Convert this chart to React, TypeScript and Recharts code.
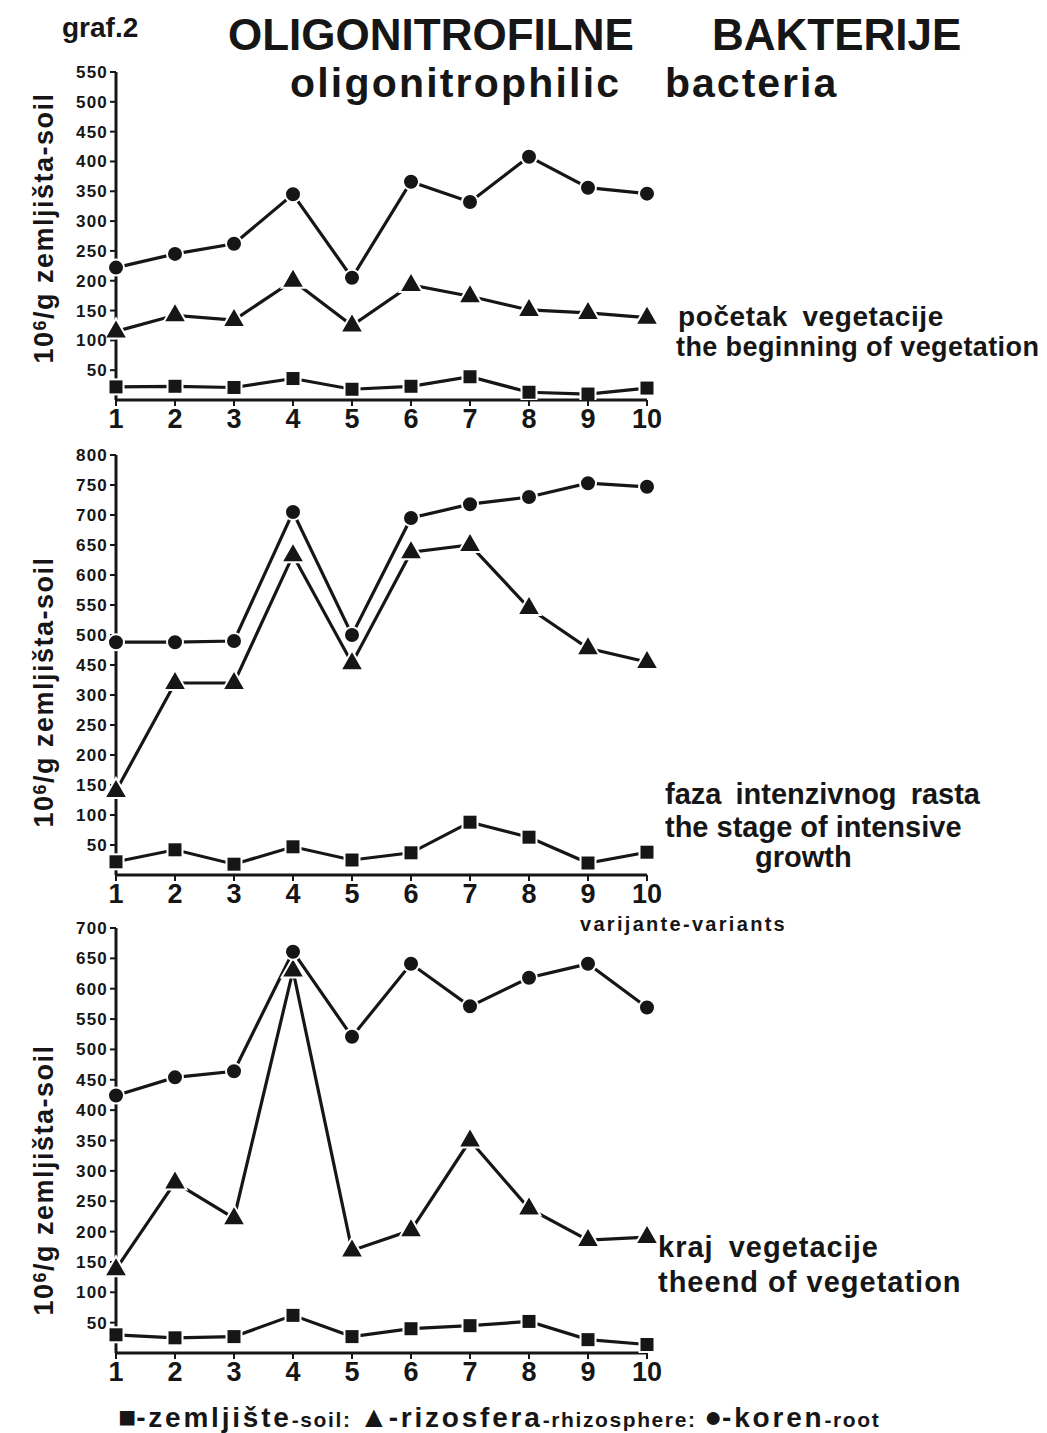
import React from "react";
import { LineChart, Line, XAxis, YAxis } from "recharts";

const variants = ["1", "2", "3", "4", "5", "6", "7", "8", "9", "10"];

// početak vegetacije - the beginning of vegetation
const beginSoil = [22, 23, 21, 36, 18, 23, 39, 13, 10, 20];
const beginRhizo = [115, 142, 134, 200, 125, 193, 174, 151, 146, 138];
const beginRoot = [222, 245, 262, 345, 205, 366, 332, 408, 356, 346];

// faza intenzivnog rasta - the stage of intensive growth (axis broken between 300 and 450)
const growthSoil = [22, 42, 18, 47, 25, 37, 88, 63, 20, 38];
const growthRhizo = [140, 320, 320, 633, 453, 638, 650, 545, 478, 455];
const growthRoot = [488, 488, 490, 705, 500, 695, 718, 730, 753, 747];

// kraj vegetacije - the end of vegetation
const endSoil = [30, 25, 27, 62, 27, 40, 45, 52, 22, 14];
const endRhizo = [138, 281, 222, 630, 169, 202, 350, 238, 186, 191];
const endRoot = [424, 454, 464, 661, 521, 641, 571, 618, 641, 569];

const beginTicks = [50, 100, 150, 200, 250, 300, 350, 400, 450, 500, 550];
const growthTicks = [50, 100, 150, 200, 250, 300, 350, 400, 450, 500, 550, 600, 650, 700];
const endTicks = [50, 100, 150, 200, 250, 300, 350, 400, 450, 500, 550, 600, 650, 700];

const FONT = "'Liberation Sans', Arial, Helvetica, sans-serif";
const INK = "#161616";

// broken axis of the middle graph: 450 sits one step above 300
const brk = (v: number) => (v >= 450 ? v - 100 : v);
const brkLabel = (d: number) => String(d >= 350 ? d + 100 : d);

function rows(soil: number[], rhizo: number[], root: number[], f = (v: number) => v) {
  return variants.map((v, i) => ({
    variant: v,
    soil: f(soil[i]),
    rhizo: f(rhizo[i]),
    root: f(root[i]),
  }));
}

const beginData = rows(beginSoil, beginRhizo, beginRoot);
const growthData = rows(growthSoil, growthRhizo, growthRoot, brk);
const endData = rows(endSoil, endRhizo, endRoot);

const squareDot = (p: any) => {
  if (p.cx == null || p.cy == null) return <g key={`s${p.index}`} />;
  return (
    <rect key={`s${p.index}`} x={p.cx - 7.5} y={p.cy - 7.5} width={15} height={15}
      fill={INK} stroke="#fff" strokeWidth={2} />
  );
};

const triangleDot = (p: any) => {
  if (p.cx == null || p.cy == null) return <g key={`t${p.index}`} />;
  const { cx, cy } = p;
  return (
    <polygon key={`t${p.index}`}
      points={`${cx},${cy - 13} ${cx - 11.5},${cy + 7} ${cx + 11.5},${cy + 7}`}
      fill={INK} stroke="#fff" strokeWidth={2} />
  );
};

const circleDot = (p: any) => {
  if (p.cx == null || p.cy == null) return <g key={`c${p.index}`} />;
  return <circle key={`c${p.index}`} cx={p.cx} cy={p.cy} r={8} fill={INK} stroke="#fff" strokeWidth={2} />;
};

type PanelProps = {
  data: any[];
  top: number;
  height: number;
  marginTop: number;
  max: number;
  ticks: number[];
  fmt?: (v: number) => string;
};

function Panel({ data, top, height, marginTop, max, ticks, fmt }: PanelProps) {
  return (
    <div style={{ position: "absolute", left: 0, top }}>
      <LineChart width={700} height={height} data={data}
        margin={{ top: marginTop, right: 53, left: 0, bottom: 0 }}>
        <XAxis dataKey="variant" height={40} interval={0}
          axisLine={{ stroke: INK, strokeWidth: 3 }}
          tickLine={{ stroke: INK, strokeWidth: 2 }} tickSize={6} tickMargin={3}
          tick={{ fill: INK, fontSize: 27, fontWeight: 700, fontFamily: FONT }} />
        <YAxis type="number" domain={[0, max]} ticks={ticks} interval={0} width={116}
          allowDataOverflow tickFormatter={fmt}
          axisLine={{ stroke: INK, strokeWidth: 3 }}
          tickLine={{ stroke: INK, strokeWidth: 2 }} tickSize={6} tickMargin={2}
          tick={{ fill: INK, fontSize: 17, fontWeight: 700, fontFamily: FONT, letterSpacing: 1.2 }} />
        <Line dataKey="soil" stroke={INK} strokeWidth={3.2} dot={squareDot} isAnimationActive={false} />
        <Line dataKey="rhizo" stroke={INK} strokeWidth={3.2} dot={triangleDot} isAnimationActive={false} />
        <Line dataKey="root" stroke={INK} strokeWidth={3.2} dot={circleDot} isAnimationActive={false} />
      </LineChart>
    </div>
  );
}

const txt = (left: number, top: number, size: number, extra: React.CSSProperties = {}): React.CSSProperties => ({
  position: "absolute", left, top, fontSize: size, fontWeight: 700, lineHeight: 1,
  whiteSpace: "nowrap", color: INK, fontFamily: FONT, ...extra,
});

function YLabel({ cy }: { cy: number }) {
  return (
    <div style={txt(44, cy, 27, { transform: "translate(-50%, -50%) rotate(-90deg)", letterSpacing: 1.5 })}>
      10<span style={{ fontSize: 18, verticalAlign: "top" }}>6</span>/g zemljišta-soil
    </div>
  );
}

const small: React.CSSProperties = { fontSize: 21, letterSpacing: 1.6 };
const mark: React.CSSProperties = { fontSize: 30, letterSpacing: 0 };

export default function App() {
  return (
    <div style={{ position: "absolute", left: 0, top: 0, width: 1047, height: 1433, background: "#fff", overflow: "hidden" }}>
      <div style={txt(62, 14, 28)}>graf.2</div>
      <div style={txt(228, 13, 44)}>OLIGONITROFILNE</div>
      <div style={txt(712, 13, 44)}>BAKTERIJE</div>
      <div style={txt(290, 63, 41, { letterSpacing: 2.2 })}>oligonitrophilic</div>
      <div style={txt(665, 63, 41, { letterSpacing: 2 })}>bacteria</div>

      <Panel data={beginData} top={60} height={380} marginTop={12} max={550} ticks={beginTicks} />
      <Panel data={growthData} top={440} height={475} marginTop={15} max={700} ticks={growthTicks} fmt={brkLabel} />
      <Panel data={endData} top={915} height={478} marginTop={13} max={700} ticks={endTicks} />

      <YLabel cy={228} />
      <YLabel cy={692} />
      <YLabel cy={1180} />

      <div style={txt(678, 303, 28, { wordSpacing: 6, letterSpacing: 0.6 })}>početak vegetacije</div>
      <div style={txt(676, 334, 27, { letterSpacing: 0.4 })}>the beginning of vegetation</div>

      <div style={txt(665, 780, 29, { wordSpacing: 6 })}>faza intenzivnog rasta</div>
      <div style={txt(665, 813, 29)}>the stage of intensive</div>
      <div style={txt(755, 843, 29)}>growth</div>
      <div style={txt(580, 914, 20, { letterSpacing: 2.3 })}>varijante-variants</div>

      <div style={txt(658, 1233, 29, { wordSpacing: 6, letterSpacing: 1 })}>kraj vegetacije</div>
      <div style={txt(658, 1268, 29, { letterSpacing: 1 })}>theend of vegetation</div>

      <div style={txt(118, 1402, 28, { letterSpacing: 2.8 })}>
        <span style={mark}>■</span>-zemljište<span style={small}>-soil: </span>
        <span style={mark}>▲</span>-rizosfera<span style={small}>-rhizosphere: </span>
        <span style={mark}>●</span>-koren<span style={small}>-root</span>
      </div>
    </div>
  );
}
